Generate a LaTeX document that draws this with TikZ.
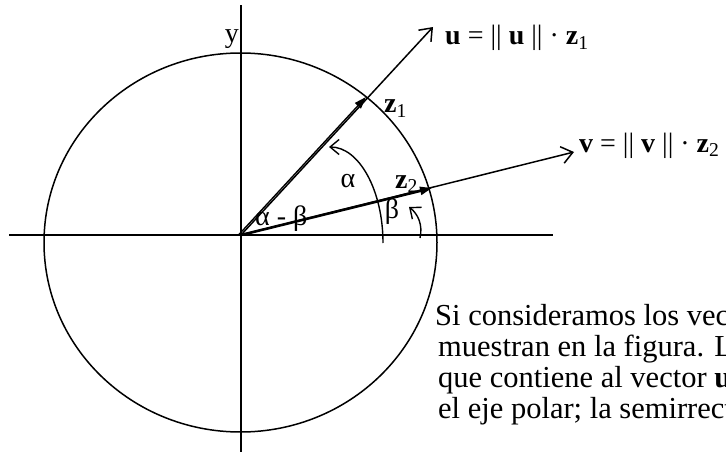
\documentclass[tikz,border=0pt]{standalone}
\usepackage{fontspec}
\setmainfont{Liberation Serif}
\usetikzlibrary{arrows.meta}

\begin{document}
\begin{tikzpicture}[x=1pt, y=1pt,
  axis/.style={line width=1.5pt},
  vec/.style={line width=1.5pt, -{Straight Barb[length=11pt,width=17pt,line width=1.5pt]}},
  unitvec/.style={-{Triangle[length=12pt,width=8pt]}},
  angarc/.style={line width=1.4pt, -{Straight Barb[length=9pt,width=15pt,line width=1.4pt]}},
  lbl/.style={inner sep=0pt, font=\fontsize{28}{30}\selectfont},
  para/.style={inner sep=0pt, font=\fontsize{30.5}{31}\selectfont}
]
  \useasboundingbox (0,0) rectangle (726,451);
  \clip (0,0) rectangle (726,451);
  \coordinate (O)  at (241,216);
  \coordinate (xl) at (9,216);
  \coordinate (xr) at (553,216);
  \coordinate (yb) at (241,-2);
  \coordinate (yt) at (241,446);
  \coordinate (U)  at (433,424);
  \coordinate (V)  at (574,299);
  \coordinate (Z1) at (366,354);
  \coordinate (Z2) at (432,263);
  \draw[axis] (xl) -- (xr);
  \draw[axis] (yb) -- (yt);
  \draw[axis] (240.5,208.5) ellipse [x radius=196.5, y radius=189.5];
  \foreach \a in {U,V}
    \draw[vec] (O) -- (\a);
  \draw[unitvec, line width=1.4pt] ([xshift=-2.5pt]O) -- (Z1);
  \draw[unitvec, line width=2.6pt] (O) -- (Z2);
  \draw[angarc] (383,208) arc[start angle=0, end angle=90, x radius=54, y radius=96];
  \draw[angarc] (420,213) .. controls (423,226) and (418,237) .. (409,244);
  \node[lbl, anchor=base east] (ylab)  at (239,408) {y};
  \node[lbl, anchor=base west] (ulab)  at (445,406) {\textbf{u} = || \textbf{u} || · \textbf{z}\textsubscript{1}};
  \node[lbl, anchor=base west] (vlab)  at (579,299) {\textbf{v} = || \textbf{v} || · \textbf{z}\textsubscript{2}};
  \node[lbl, anchor=base west] (z1lab) at (384,338) {\textbf{z}\textsubscript{1}};
  \node[lbl, anchor=base west] (z2lab) at (395,263) {\textbf{z}\textsubscript{2}};
  \node[lbl, anchor=base] (alab)  at (348,264) {α};
  \node[lbl, anchor=base] (blab)  at (392,233) {β};
  \node[lbl, anchor=base west] (ablab) at (255,226) {α - β};
  \node[para, anchor=base west] (p1) at (435,126) {Si consideramos los vec};
  \node[para, anchor=base west] (p2) at (438,95)  {muestran en la figura. L};
  \node[para, anchor=base west] (p3) at (438,64)  {que contiene al vector \textbf{u}};
  \node[para, anchor=base west] (p4) at (438,33)  {el eje polar; la semirrect};
\end{tikzpicture}
\end{document}
